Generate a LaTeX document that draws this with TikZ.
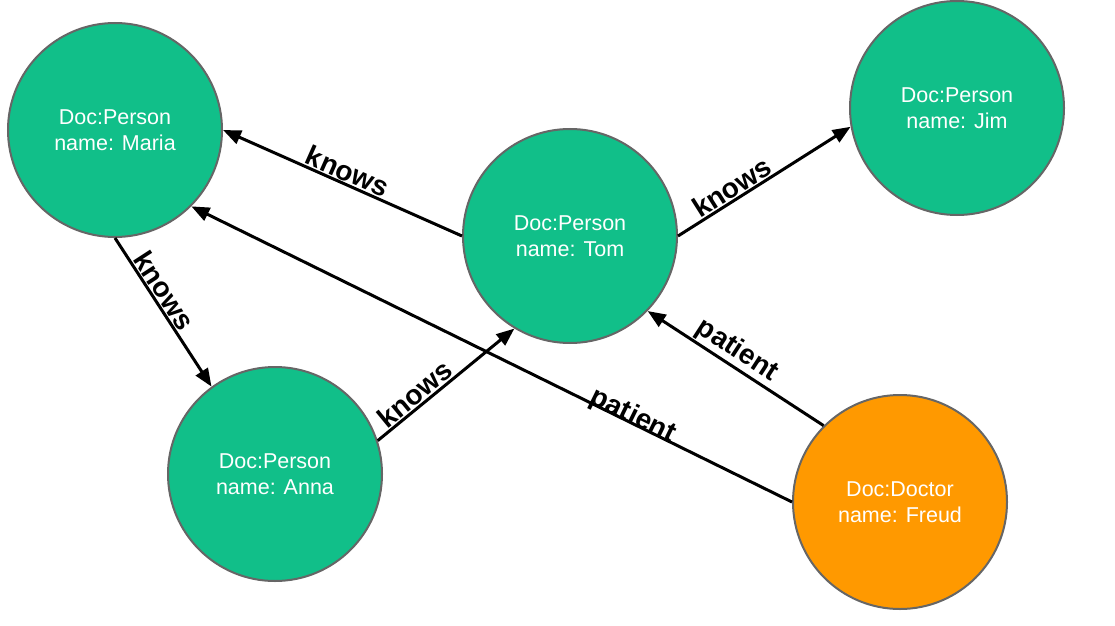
\documentclass[tikz,border=0pt]{standalone}
\usepackage{fontspec}
\setmainfont{Liberation Sans}
\usetikzlibrary{arrows.meta}
\definecolor{PersonGreen}{HTML}{11BF89}
\definecolor{DoctorOrange}{HTML}{FF9900}
\definecolor{RimGray}{HTML}{666666}

\begin{document}
\begin{tikzpicture}[x=1pt,y=1pt,
    entity/.style={circle, draw=RimGray, line width=2pt, minimum size=214pt,
      inner sep=0pt, align=center, text=white,
      font=\fontsize{21.5}{26.5}\selectfont},
    rel/.style={-{Triangle[length=18pt,width=14pt]}, line width=3pt},
    tag/.style={sloped, above, inner sep=1pt,
      font=\fontsize{28}{32}\selectfont\bfseries}]
    \useasboundingbox (0,0) rectangle (1115,625);

    \node[entity, fill=PersonGreen] (maria) at (115,495) {Doc:Person\\name: Maria};
    \node[entity, fill=PersonGreen] (tom) at (570,389) {Doc:Person\\name: Tom};
    \node[entity, fill=PersonGreen] (jim) at (957,517) {Doc:Person\\name: Jim};
    \node[entity, fill=PersonGreen] (anna) at (275,151) {Doc:Person\\name: Anna};
    \node[entity, fill=DoctorOrange] (freud) at (900,123) {Doc:Doctor\\name: Freud};

    \draw[rel] (tom.west) -- node[tag, pos=0.5] {knows} (maria.east);
    \draw[rel] (tom.east) -- node[tag, pos=0.35] {knows} (jim.190);
    \draw[rel] (maria.south) -- node[tag, pos=0.4] {knows} (anna.126);
    \draw[rel] (anna.18) -- node[tag, pos=0.33] {knows} (tom.239);
    \draw[rel] (freud.135) -- node[tag, pos=0.54] {patient} (tom.316);
    \draw[rel] (freud.west) -- node[tag, pos=0.27, above=-9pt] {patient} (maria.315);
  \end{tikzpicture}
\end{document}
